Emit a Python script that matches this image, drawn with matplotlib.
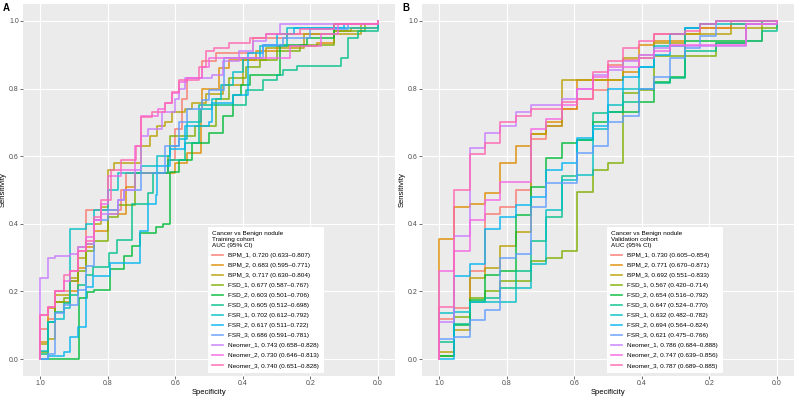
import matplotlib
matplotlib.use("Agg")
import matplotlib.pyplot as plt

plt.rcParams["font.family"] = ["Liberation Sans", "DejaVu Sans"]

# ggplot hue palette, 12 levels
colors = ["#F8766D", "#DE8C00", "#B79F00", "#7CAE00", "#00BA38", "#00C08B",
          "#00BFC4", "#00B4F0", "#619CFF", "#C77CFF", "#F564E3", "#FF64B0"]
models = ["BPM_1", "BPM_2", "BPM_3", "FSD_1", "FSD_2", "FSD_3",
          "FSR_1", "FSR_2", "FSR_3", "Neomer_1", "Neomer_2", "Neomer_3"]

train_auc = [0.720, 0.683, 0.717, 0.677, 0.603, 0.605, 0.702, 0.617, 0.686, 0.743, 0.730, 0.740]
train_lo = [0.633, 0.595, 0.630, 0.587, 0.501, 0.512, 0.612, 0.511, 0.591, 0.658, 0.646, 0.651]
train_hi = [0.807, 0.771, 0.804, 0.767, 0.706, 0.698, 0.792, 0.722, 0.781, 0.828, 0.813, 0.828]

valid_auc = [0.730, 0.771, 0.692, 0.567, 0.654, 0.647, 0.632, 0.694, 0.621, 0.786, 0.747, 0.787]
valid_lo = [0.605, 0.670, 0.551, 0.420, 0.516, 0.524, 0.482, 0.564, 0.475, 0.684, 0.639, 0.689]
valid_hi = [0.854, 0.871, 0.833, 0.714, 0.792, 0.770, 0.782, 0.824, 0.766, 0.888, 0.856, 0.885]

# ROC knots (specificity, sensitivity reached at that specificity) - training cohort
tr_bpm1 = [(1.0, 0.09), (0.977, 0.12), (0.955, 0.20), (0.91, 0.23), (0.887, 0.33), (0.865, 0.44),
           (0.76, 0.50), (0.745, 0.55), (0.62, 0.59), (0.60, 0.68), (0.58, 0.77), (0.565, 0.83),
           (0.52, 0.88), (0.48, 0.906), (0.37, 0.95), (0.27, 0.96), (0.13, 0.99), (0.0, 1.0)]
tr_bpm2 = [(1.0, 0.05), (0.977, 0.15), (0.955, 0.17), (0.91, 0.20), (0.887, 0.27), (0.865, 0.33),
           (0.84, 0.38), (0.80, 0.43), (0.745, 0.51), (0.72, 0.55), (0.60, 0.58), (0.565, 0.61),
           (0.525, 0.74), (0.52, 0.80), (0.47, 0.86), (0.44, 0.885), (0.36, 0.91), (0.30, 0.925),
           (0.18, 0.935), (0.13, 0.97), (0.08, 0.98), (0.0, 1.0)]
tr_bpm3 = [(1.0, 0.045), (0.977, 0.06), (0.955, 0.19), (0.91, 0.24), (0.887, 0.30), (0.865, 0.34),
           (0.84, 0.40), (0.82, 0.45), (0.80, 0.56), (0.78, 0.58), (0.70, 0.63), (0.675, 0.66),
           (0.655, 0.69), (0.63, 0.70), (0.61, 0.73), (0.57, 0.74), (0.55, 0.757), (0.51, 0.785),
           (0.46, 0.81), (0.40, 0.885), (0.33, 0.92), (0.22, 0.96), (0.05, 0.99), (0.0, 1.0)]
tr_fsd1 = [(1.0, 0.02), (0.977, 0.11), (0.955, 0.17), (0.93, 0.18), (0.91, 0.23), (0.887, 0.26),
           (0.865, 0.32), (0.84, 0.35), (0.80, 0.42), (0.77, 0.455), (0.72, 0.55), (0.62, 0.60),
           (0.615, 0.66), (0.54, 0.69), (0.48, 0.77), (0.44, 0.83), (0.39, 0.865), (0.35, 0.885),
           (0.30, 0.91), (0.23, 0.93), (0.13, 0.97), (0.04, 0.99), (0.0, 1.0)]
tr_fsd2 = [(1.0, 0.0), (0.885, 0.18), (0.862, 0.199), (0.84, 0.205), (0.793, 0.266), (0.751, 0.305),
           (0.729, 0.334), (0.704, 0.372), (0.658, 0.39), (0.636, 0.40), (0.615, 0.554),
           (0.59, 0.59), (0.55, 0.64), (0.50, 0.67), (0.46, 0.72), (0.43, 0.78),
           (0.405, 0.81), (0.38, 0.84), (0.29, 0.93), (0.21, 0.95), (0.13, 0.99), (0.0, 1.0)]
tr_fsd3 = [(1.0, 0.015), (0.977, 0.11), (0.955, 0.14), (0.93, 0.165), (0.91, 0.19), (0.887, 0.22),
           (0.865, 0.25), (0.842, 0.273), (0.795, 0.313), (0.773, 0.352), (0.729, 0.46), (0.68, 0.49),
           (0.665, 0.55), (0.62, 0.59), (0.57, 0.64), (0.53, 0.75), (0.39, 0.796), (0.34, 0.825),
           (0.30, 0.84), (0.28, 0.855), (0.24, 0.868), (0.11, 0.89), (0.09, 0.95), (0.06, 0.97),
           (0.0, 1.0)]
tr_fsr1 = [(1.0, 0.025), (0.977, 0.11), (0.955, 0.12), (0.93, 0.15), (0.91, 0.385), (0.865, 0.40),
           (0.84, 0.44), (0.80, 0.50), (0.77, 0.55), (0.70, 0.57), (0.655, 0.60), (0.615, 0.63),
           (0.59, 0.65), (0.565, 0.70), (0.525, 0.74), (0.49, 0.77), (0.465, 0.81), (0.43, 0.85),
           (0.40, 0.89), (0.35, 0.925), (0.27, 0.98), (0.0, 1.0)]
tr_fsr2 = [(1.0, 0.0), (0.977, 0.01), (0.93, 0.02), (0.91, 0.066), (0.887, 0.095), (0.865, 0.214),
           (0.842, 0.246), (0.793, 0.284), (0.704, 0.38), (0.68, 0.46), (0.658, 0.485),
           (0.655, 0.57), (0.615, 0.62), (0.57, 0.69), (0.50, 0.70), (0.49, 0.757),
           (0.43, 0.78), (0.385, 0.905), (0.34, 0.93), (0.30, 0.96), (0.25, 0.98), (0.10, 0.99),
           (0.0, 1.0)]
tr_fsr3 = [(1.0, 0.0), (0.977, 0.015), (0.955, 0.135), (0.93, 0.16), (0.887, 0.205), (0.865, 0.275),
           (0.84, 0.41), (0.80, 0.44), (0.77, 0.47), (0.75, 0.50), (0.70, 0.55), (0.63, 0.63),
           (0.59, 0.70), (0.565, 0.74), (0.52, 0.765), (0.50, 0.796), (0.455, 0.89), (0.34, 0.93),
           (0.28, 0.95), (0.20, 0.975), (0.09, 0.99), (0.0, 1.0)]
tr_neo1 = [(1.0, 0.24), (0.977, 0.30), (0.955, 0.305), (0.91, 0.31), (0.887, 0.33), (0.865, 0.34),
           (0.84, 0.41), (0.82, 0.43), (0.77, 0.47), (0.75, 0.50), (0.72, 0.56), (0.70, 0.66),
           (0.68, 0.68), (0.64, 0.73), (0.60, 0.77), (0.59, 0.80), (0.57, 0.83), (0.49, 0.84),
           (0.46, 0.88), (0.41, 0.91), (0.37, 0.94), (0.33, 0.96), (0.29, 0.99), (0.0, 1.0)]
tr_neo2 = [(1.0, 0.13), (0.977, 0.155), (0.955, 0.20), (0.93, 0.23), (0.91, 0.26), (0.887, 0.32),
           (0.865, 0.36), (0.84, 0.41), (0.82, 0.46), (0.80, 0.54), (0.76, 0.56), (0.72, 0.63),
           (0.70, 0.72), (0.65, 0.74), (0.63, 0.757), (0.61, 0.786), (0.59, 0.82), (0.565, 0.83),
           (0.52, 0.865), (0.50, 0.89), (0.26, 0.925), (0.17, 0.96), (0.12, 0.99), (0.0, 1.0)]
tr_neo3 = [(1.0, 0.13), (0.977, 0.155), (0.955, 0.20), (0.93, 0.25), (0.91, 0.26), (0.887, 0.32),
           (0.865, 0.35), (0.84, 0.42), (0.82, 0.47), (0.79, 0.56), (0.76, 0.59), (0.715, 0.63),
           (0.70, 0.717), (0.67, 0.73), (0.63, 0.757), (0.61, 0.79), (0.59, 0.825), (0.53, 0.865),
           (0.51, 0.91), (0.485, 0.92), (0.44, 0.935), (0.38, 0.95), (0.33, 0.96), (0.23, 0.975),
           (0.13, 0.99), (0.0, 1.0)]

# validation cohort
va_bpm1 = [(1.0, 0.12), (0.955, 0.15), (0.909, 0.26), (0.864, 0.43), (0.818, 0.45), (0.773, 0.50),
           (0.727, 0.65), (0.682, 0.69), (0.636, 0.74), (0.591, 0.77), (0.545, 0.796), (0.50, 0.87),
           (0.455, 0.885), (0.409, 0.90), (0.364, 0.96), (0.273, 0.98), (0.136, 1.0), (0.0, 1.0)]
va_bpm2 = [(1.0, 0.355), (0.955, 0.45), (0.909, 0.46), (0.864, 0.49), (0.818, 0.58), (0.773, 0.63),
           (0.727, 0.665), (0.682, 0.70), (0.636, 0.74), (0.591, 0.825), (0.455, 0.85), (0.409, 0.93),
           (0.364, 0.94), (0.273, 0.96), (0.227, 0.98), (0.136, 0.99), (0.0, 1.0)]
va_bpm3 = [(1.0, 0.02), (0.955, 0.085), (0.909, 0.24), (0.864, 0.27), (0.818, 0.335), (0.773, 0.375),
           (0.727, 0.665), (0.682, 0.69), (0.636, 0.825), (0.455, 0.89), (0.364, 0.935), (0.273, 0.96),
           (0.136, 0.98), (0.045, 0.99), (0.0, 1.0)]
va_fsd1 = [(1.0, 0.01), (0.955, 0.125), (0.909, 0.18), (0.864, 0.20), (0.818, 0.23), (0.727, 0.29),
           (0.682, 0.30), (0.636, 0.32), (0.591, 0.495), (0.545, 0.56), (0.50, 0.58), (0.455, 0.786),
           (0.409, 0.796), (0.364, 0.895), (0.182, 0.935), (0.091, 0.94), (0.045, 0.98), (0.0, 1.0)]
va_fsd2 = [(1.0, 0.01), (0.955, 0.10), (0.909, 0.175), (0.864, 0.25), (0.818, 0.26), (0.773, 0.425),
           (0.727, 0.51), (0.682, 0.595), (0.636, 0.64), (0.591, 0.648), (0.545, 0.70), (0.50, 0.73),
           (0.409, 0.76), (0.364, 0.82), (0.318, 0.835), (0.273, 0.94), (0.091, 0.99), (0.045, 1.0),
           (0.0, 1.0)]
va_fsd3 = [(1.0, 0.05), (0.955, 0.105), (0.909, 0.17), (0.864, 0.18), (0.818, 0.21), (0.773, 0.26),
           (0.727, 0.35), (0.682, 0.42), (0.636, 0.54), (0.591, 0.648), (0.545, 0.727), (0.50, 0.73),
           (0.455, 0.76), (0.409, 0.80), (0.364, 0.815), (0.318, 0.83), (0.273, 0.91), (0.182, 0.935),
           (0.091, 0.94), (0.045, 0.97), (0.0, 1.0)]
va_fsr1 = [(1.0, 0.135), (0.955, 0.14), (0.909, 0.17), (0.773, 0.21), (0.727, 0.28), (0.682, 0.44),
           (0.636, 0.53), (0.591, 0.544), (0.545, 0.68), (0.50, 0.75), (0.455, 0.80), (0.409, 0.865),
           (0.364, 0.925), (0.273, 0.98), (0.227, 0.99), (0.0, 1.0)]
va_fsr2 = [(1.0, 0.0), (0.955, 0.245), (0.909, 0.28), (0.864, 0.385), (0.818, 0.42), (0.773, 0.455),
           (0.727, 0.48), (0.682, 0.56), (0.636, 0.58), (0.591, 0.655), (0.545, 0.69), (0.50, 0.80),
           (0.455, 0.835), (0.409, 0.865), (0.364, 0.90), (0.318, 0.96), (0.273, 0.98), (0.227, 0.99),
           (0.182, 1.0), (0.0, 1.0)]
va_fsr3 = [(1.0, 0.06), (0.955, 0.065), (0.909, 0.115), (0.864, 0.145), (0.818, 0.30), (0.773, 0.31),
           (0.727, 0.45), (0.682, 0.52), (0.591, 0.61), (0.545, 0.63), (0.50, 0.70), (0.455, 0.72),
           (0.409, 0.80), (0.364, 0.835), (0.318, 0.89), (0.273, 0.92), (0.227, 0.955), (0.182, 1.0),
           (0.0, 1.0)]
va_neo1 = [(1.0, 0.11), (0.955, 0.365), (0.909, 0.625), (0.864, 0.67), (0.818, 0.69), (0.773, 0.73),
           (0.727, 0.75), (0.636, 0.77), (0.591, 0.80), (0.545, 0.84), (0.50, 0.855), (0.455, 0.88),
           (0.409, 0.90), (0.364, 0.92), (0.318, 0.925), (0.091, 0.99), (0.0, 1.0)]
va_neo2 = [(1.0, 0.26), (0.955, 0.32), (0.909, 0.41), (0.864, 0.47), (0.818, 0.525), (0.727, 0.68),
           (0.682, 0.71), (0.636, 0.75), (0.591, 0.80), (0.545, 0.835), (0.50, 0.865), (0.409, 0.89),
           (0.364, 0.91), (0.318, 0.93), (0.091, 0.99), (0.0, 1.0)]
va_neo3 = [(1.0, 0.155), (0.955, 0.50), (0.909, 0.605), (0.864, 0.64), (0.818, 0.70), (0.773, 0.72),
           (0.727, 0.74), (0.636, 0.76), (0.591, 0.77), (0.545, 0.85), (0.50, 0.88), (0.455, 0.92),
           (0.409, 0.94), (0.364, 0.96), (0.273, 0.97), (0.227, 0.99), (0.182, 1.0), (0.0, 1.0)]

train_curves = [tr_bpm1, tr_bpm2, tr_bpm3, tr_fsd1, tr_fsd2, tr_fsd3,
                tr_fsr1, tr_fsr2, tr_fsr3, tr_neo1, tr_neo2, tr_neo3]
valid_curves = [va_bpm1, va_bpm2, va_bpm3, va_fsd1, va_fsd2, va_fsd3,
                va_fsr1, va_fsr2, va_fsr3, va_neo1, va_neo2, va_neo3]

fig = plt.figure(figsize=(7.97, 3.96), dpi=100)
W, H = 797, 396


def panel(rect_px, curves, auc, lo, hi, cohort, tag):
    x0, y0, x1, y1 = rect_px
    ax = fig.add_axes([x0 / W, 1 - y1 / H, (x1 - x0) / W, (y1 - y0) / H])
    ax.set_facecolor("#EBEBEB")
    for i, pts in enumerate(curves):
        xs = [1.0] + [p[0] for p in pts]
        ys = [0.0] + [p[1] for p in pts]
        lab = "%s, %.3f (%.3f\u2013%.3f)" % (models[i], auc[i], lo[i], hi[i])
        ax.plot(xs, ys, drawstyle="steps-post", color=colors[i], lw=1.2,
                alpha=0.85, label=lab)
    ax.set_xlim(1.05, -0.05)
    ax.set_ylim(-0.05, 1.05)
    ticks = [0.0, 0.2, 0.4, 0.6, 0.8, 1.0]
    ax.set_xticks(ticks)
    ax.set_yticks(ticks)
    ax.set_xticklabels(["%.1f" % t for t in ticks])
    ax.set_yticklabels(["%.1f" % t for t in ticks])
    ax.grid(True, color="white", lw=0.8)
    ax.set_axisbelow(True)
    for s in ax.spines.values():
        s.set_visible(False)
    ax.tick_params(colors="#333333", labelcolor="#4D4D4D", labelsize=5,
                   length=2, width=0.5, pad=1)
    ax.set_xlabel("Specificity", fontsize=5.5, labelpad=1.5)
    ax.set_ylabel("Sensitivity", fontsize=5.5, labelpad=1.5)
    leg = ax.legend(loc="lower left", bbox_to_anchor=(0.497, 0.008),
                    title="Cancer vs Benign nodule\n%s\nAUC (95%% CI)" % cohort,
                    fontsize=4.6, title_fontsize=4.6, frameon=True, fancybox=False,
                    edgecolor="white", framealpha=1.0, handlelength=1.6,
                    handletextpad=0.9, labelspacing=0.72, borderpad=0.7,
                    borderaxespad=0.0, alignment="left")
    leg.get_frame().set_linewidth(0)
    fig.text(x0 / W - 20 / W, 1 - 3 / H, tag, fontsize=7, fontweight="bold",
             va="top", ha="left")
    return ax


panel((23, 4, 395, 376), train_curves, train_auc, train_lo, train_hi,
      "Training cohort", "A")
panel((422, 4, 794, 376), valid_curves, valid_auc, valid_lo, valid_hi,
      "Validation cohort", "B")

fig.savefig("out.png", dpi=100)
